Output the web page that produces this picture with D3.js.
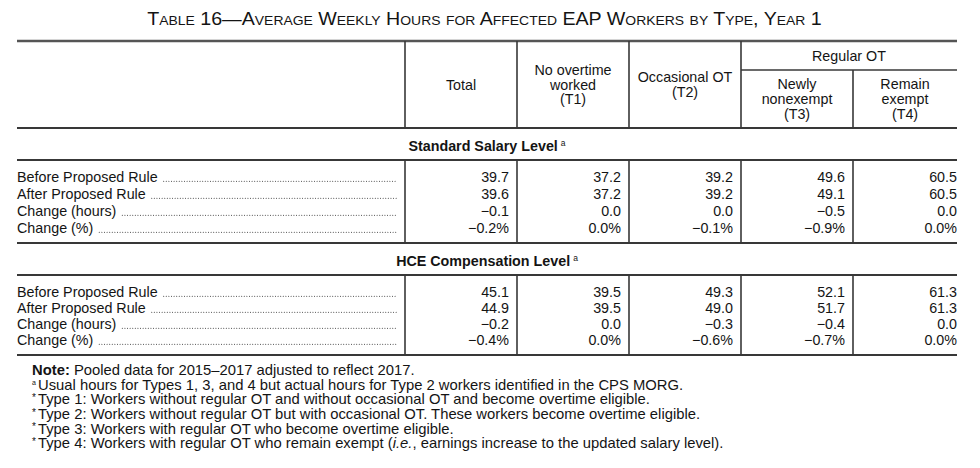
<!DOCTYPE html>
<html><head><meta charset="utf-8">
<script src="https://cdn.jsdelivr.net/npm/d3@7"></script>
<style>
html,body{margin:0;padding:0;background:#fff;}
svg{display:block;font-family:"Liberation Sans",Arial,Helvetica,sans-serif;}
</style></head><body>
<svg id="chart" width="980" height="468"></svg>
<script>
// ---------- data ----------
const titleText = "Table 16—Average Weekly Hours for Affected EAP Workers by Type, Year 1";
const columns = ["Total", "No overtime worked (T1)", "Occasional OT (T2)", "Newly nonexempt (T3)", "Remain exempt (T4)"];
const columnHeaderLines = [["Total"], ["No overtime", "worked", "(T1)"], ["Occasional OT", "(T2)"], ["Newly", "nonexempt", "(T3)"], ["Remain", "exempt", "(T4)"]];
const groupLabel = "Regular OT";
const groupColumns = ["Newly nonexempt (T3)", "Remain exempt (T4)"];
const sectionTitles = ["Standard Salary Level", "HCE Compensation Level"];
const rowLabels = ["Before Proposed Rule", "After Proposed Rule", "Change (hours)", "Change (%)"];
const rowIsPercent = [false, false, false, true];

const standardBefore      = [39.7, 37.2, 39.2, 49.6, 60.5];
const standardAfter       = [39.6, 37.2, 39.2, 49.1, 60.5];
const standardChangeHours = [-0.1, 0.0, 0.0, -0.5, 0.0];
const standardChangePct   = [-0.2, 0.0, -0.1, -0.9, 0.0];

const hceBefore      = [45.1, 39.5, 49.3, 52.1, 61.3];
const hceAfter       = [44.9, 39.5, 49.0, 51.7, 61.3];
const hceChangeHours = [-0.2, 0.0, -0.3, -0.4, 0.0];
const hceChangePct   = [-0.4, 0.0, -0.6, -0.7, 0.0];

const noteLines = [
  {mark: "", parts: [{t: "Note:", w: "bold"}, {t: " Pooled data for 2015–2017 adjusted to reflect 2017."}]},
  {mark: "a", parts: [{t: "Usual hours for Types 1, 3, and 4 but actual hours for Type 2 workers identified in the CPS MORG."}]},
  {mark: "*", parts: [{t: "Type 1: Workers without regular OT and without occasional OT and become overtime eligible."}]},
  {mark: "*", parts: [{t: "Type 2: Workers without regular OT but with occasional OT. These workers become overtime eligible."}]},
  {mark: "*", parts: [{t: "Type 3: Workers with regular OT who become overtime eligible."}]},
  {mark: "*", parts: [{t: "Type 4: Workers with regular OT who remain exempt ("}, {t: "i.e.", s: "italic"}, {t: ", earnings increase to the updated salary level)."}]}
];

// ---------- build ----------
const sections = [
  {title: sectionTitles[0], rows: [standardBefore, standardAfter, standardChangeHours, standardChangePct]},
  {title: sectionTitles[1], rows: [hceBefore, hceAfter, hceChangeHours, hceChangePct]}
];

const svg = d3.select("#chart");
const ink = "#141414", rule = "#383838";
const FS = 14.3;

const tableLeft = 17, tableRight = 957, stubRight = 405;
const x = d3.scaleBand().domain(columns).range([stubRight, stubRight + 112 * columns.length]);
const headerTop = 41, groupLineY = 70, headerBottom = 128;
const sectionLayout = [
  {titleY: 146, top: 160, bottom: 243},
  {titleY: 261, top: 275, bottom: 355}
];

// title in small caps
(function () {
  const cx = 484.5;
  const t = svg.append("text").attr("x", cx).attr("y", 25).attr("text-anchor", "middle")
    .attr("fill", ink).attr("font-size", 17.5);
  const runs = [];
  for (const ch of titleText) {
    const small = ch !== ch.toUpperCase();
    if (runs.length && runs[runs.length - 1].small === small) runs[runs.length - 1].s += ch;
    else runs.push({small, s: ch});
  }
  runs.forEach(r => t.append("tspan").attr("font-size", r.small ? 12.4 : 17.5).text(r.s.toUpperCase()));
  const w = t.node().getComputedTextLength();
  const k = 675 / w;
  t.attr("transform", `translate(${cx},0) scale(${k},1) translate(${-cx},0)`);
})();

// rules
function hline(y, x1, x2, w, c) {
  svg.append("line").attr("x1", x1).attr("x2", x2).attr("y1", y).attr("y2", y)
    .attr("stroke", c || rule).attr("stroke-width", w);
}
function vline(xv, y1, y2) {
  svg.append("line").attr("x1", xv).attr("x2", xv).attr("y1", y1).attr("y2", y2)
    .attr("stroke", rule).attr("stroke-width", 1.6);
}

hline(headerTop, tableLeft, tableRight, 2.6, "#555");
const gx0 = x(groupColumns[0]);
hline(groupLineY, gx0, tableRight, 1.6);
hline(headerBottom, tableLeft, tableRight, 2.0);

columns.forEach(c => {
  const top = groupColumns.includes(c) && c !== groupColumns[0] ? groupLineY : headerTop;
  vline(x(c), top, headerBottom);
});

// group header
svg.append("text").attr("x", (gx0 + tableRight) / 2).attr("y", (headerTop + groupLineY) / 2)
  .attr("dy", "0.35em").attr("text-anchor", "middle").attr("fill", ink).attr("font-size", FS).text(groupLabel);

// column headers
columns.forEach((c, i) => {
  const inGroup = groupColumns.includes(c);
  const top = inGroup ? groupLineY : headerTop;
  const right = Math.min(x(c) + x.bandwidth(), tableRight);
  const cx = (x(c) + right) / 2;
  const lines = columnHeaderLines[i];
  const lh = 14.6;
  const cy = (top + headerBottom) / 2 - (lines.length - 1) * lh / 2;
  lines.forEach((ln, j) => {
    svg.append("text").attr("x", cx).attr("y", cy + j * lh).attr("dy", "0.35em")
      .attr("text-anchor", "middle").attr("fill", ink).attr("font-size", FS).text(ln);
  });
});

function fmt(v, pct) {
  const s = Math.abs(v).toFixed(1) + (pct ? "%" : "");
  return v < 0 ? "\u2212" + s : s;
}

sections.forEach((sec, si) => {
  const L = sectionLayout[si];
  const tt = svg.append("text").attr("x", (tableLeft + tableRight) / 2).attr("y", L.titleY)
    .attr("dy", "0.35em").attr("text-anchor", "middle").attr("fill", ink)
    .attr("font-size", FS).attr("font-weight", "bold");
  tt.append("tspan").text(sec.title);
  tt.append("tspan").attr("font-size", 8.5).attr("font-weight", "normal").attr("dx", 3).attr("dy", -5).text("a");

  hline(L.top, tableLeft, tableRight, 2.0);
  hline(L.bottom, tableLeft, tableRight, 2.0);
  columns.forEach(c => vline(x(c), L.top, L.bottom));

  const y = d3.scalePoint().domain(rowLabels).range([L.top + 17, L.bottom - 15]);

  rowLabels.forEach((lab, ri) => {
    const ty = y(lab);
    const lt = svg.append("text").attr("x", tableLeft).attr("y", ty).attr("dy", "0.35em")
      .attr("fill", ink).attr("font-size", FS).text(lab);
    const w = lt.node().getComputedTextLength();
    svg.append("line").attr("x1", tableLeft + w + 6).attr("x2", stubRight - 8)
      .attr("y1", ty + 4.3).attr("y2", ty + 4.3)
      .attr("stroke", "#333").attr("stroke-width", 1.1)
      .attr("stroke-linecap", "round").attr("stroke-dasharray", "0,2.6");

    sec.rows[ri].forEach((v, ci) => {
      const c = columns[ci];
      const right = Math.min(x(c) + x.bandwidth() - 8, tableRight);
      svg.append("text").attr("x", right).attr("y", ty).attr("dy", "0.35em")
        .attr("text-anchor", "end").attr("fill", ink).attr("font-size", FS)
        .text(fmt(v, rowIsPercent[ri]));
    });
  });
});

// notes
const noteY = d3.scalePoint().domain(d3.range(noteLines.length)).range([370, 443]);
noteLines.forEach((n, i) => {
  const yy = noteY(i);
  if (n.mark) {
    svg.append("text").attr("x", 32).attr("y", yy + (n.mark === "*" ? -1.5 : -2)).attr("dy", "0.35em")
      .attr("fill", ink).attr("font-size", n.mark === "*" ? 10 : 7).text(n.mark);
  }
  const t = svg.append("text").attr("x", n.mark ? 38 : 32).attr("y", yy).attr("dy", "0.35em")
    .attr("fill", ink).attr("font-size", 14.8);
  n.parts.forEach(p => {
    const s = t.append("tspan").text(p.t);
    if (p.w) s.attr("font-weight", p.w);
    if (p.s) s.attr("font-style", p.s);
  });
});
</script>
</body></html>
